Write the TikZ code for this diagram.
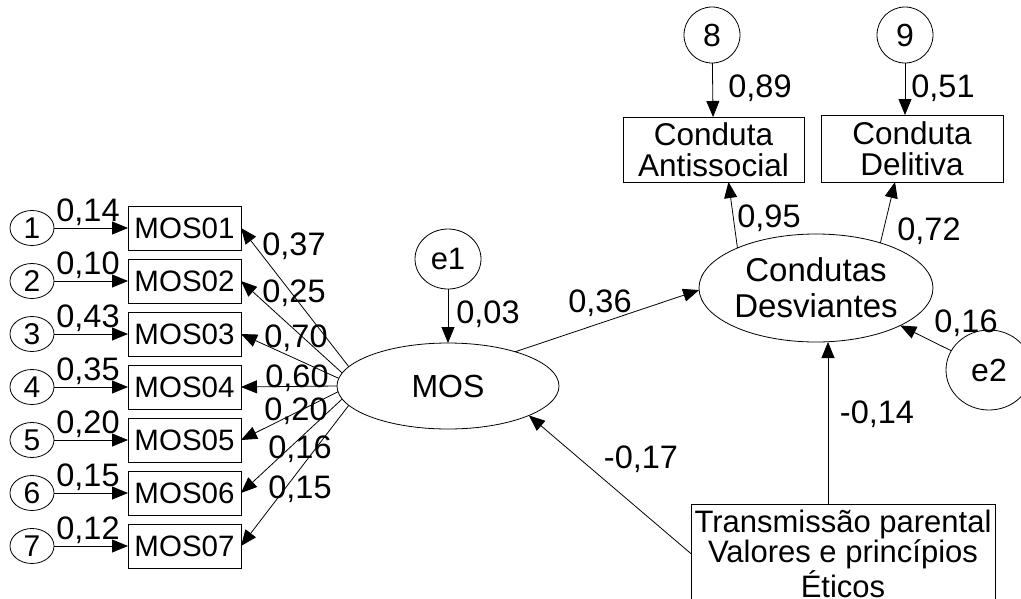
\documentclass[tikz,border=0pt]{standalone}
\usepackage{fontspec}
\setmainfont{Liberation Sans}
\usetikzlibrary{shapes.geometric,arrows.meta}
\begin{document}
\begin{tikzpicture}[x=1pt,y=-1pt,
  every node/.style={inner sep=0pt, outer sep=0pt},
  lw/.style={line width=0.8pt},
  arr/.style={lw, -{Triangle[length=16pt,width=13pt]}},
  obs/.style={draw, lw, rectangle, font=\fontsize{29.5}{29}\selectfont},
  err/.style={draw, lw, ellipse, font=\fontsize{30}{30}\selectfont},
  lat/.style={draw, lw, ellipse, align=center, font=\fontsize{33}{36}\selectfont},
  lab/.style={anchor=base, font=\fontsize{32.5}{32}\selectfont},
]
\path[use as bounding box] (0,0) rectangle (1021,598);
\clip (0,0) rectangle (1021,598);

% error circles 1-7
\node[err, minimum width=44pt, minimum height=35pt] (c1) at (32,228) {1};
\node[err, minimum width=44pt, minimum height=35pt] (c2) at (32,281) {2};
\node[err, minimum width=44pt, minimum height=35pt] (c3) at (32,334) {3};
\node[err, minimum width=44pt, minimum height=35pt] (c4) at (32,387) {4};
\node[err, minimum width=44pt, minimum height=35pt] (c5) at (32,440) {5};
\node[err, minimum width=44pt, minimum height=35pt] (c6) at (32,493) {6};
\node[err, minimum width=44pt, minimum height=35pt] (c7) at (32,546) {7};

% observed MOS items
\node[obs, minimum width=113pt, minimum height=44pt] (m1) at (184.5,228) {MOS01};
\node[obs, minimum width=113pt, minimum height=44pt] (m2) at (184.5,281) {MOS02};
\node[obs, minimum width=113pt, minimum height=44pt] (m3) at (184.5,334) {MOS03};
\node[obs, minimum width=113pt, minimum height=44pt] (m4) at (184.5,387) {MOS04};
\node[obs, minimum width=113pt, minimum height=44pt] (m5) at (184.5,440) {MOS05};
\node[obs, minimum width=113pt, minimum height=44pt] (m6) at (184.5,493) {MOS06};
\node[obs, minimum width=113pt, minimum height=44pt] (m7) at (184.5,546) {MOS07};

% latent variables
\node[lat, font=\fontsize{32}{32}\selectfont, minimum width=222pt, minimum height=86pt] (mos) at (448,386) {MOS};
\node[err, font=\fontsize{31}{31}\selectfont, minimum width=66pt, minimum height=60pt] (e1) at (448,259) {e1};
\node[lat, minimum width=234pt, minimum height=108pt] (cd) at (816,288) {Condutas\\Desviantes};
\node[err, font=\fontsize{32}{32}\selectfont, minimum width=86pt, minimum height=80pt] (e2) at (989,370) {e2};

% outcome boxes
\node[err, minimum size=56pt, font=\fontsize{32}{32}\selectfont] (c8) at (712,35) {8};
\node[err, minimum size=56pt, font=\fontsize{32}{32}\selectfont] (c9) at (905,35) {9};
\node[obs, font=\fontsize{31.5}{31}\selectfont, align=center, minimum width=181pt, minimum height=65pt] (ca) at (713.5,149.5) {Conduta\\Antissocial};
\node[obs, font=\fontsize{31.5}{31}\selectfont, align=center, minimum width=182pt, minimum height=67pt] (cdel) at (912,148.5) {Conduta\\Delitiva};

% predictor box
\node[obs, font=\fontsize{31}{28}\selectfont, align=center, minimum width=304pt, anchor=north, inner ysep=6pt] (tp) at (843,504) {Transmissão parental\\Valores e princípios\\Éticos};

% arrows errors -> items
\draw[arr] (c1) -- (m1);
\draw[arr] (c2) -- (m2);
\draw[arr] (c3) -- (m3);
\draw[arr] (c4) -- (m4);
\draw[arr] (c5) -- (m5);
\draw[arr] (c6) -- (m6);
\draw[arr] (c7) -- (m7);

% MOS -> items
\draw[arr] (mos.169) -- (m1.east);
\draw[arr] (mos.173) -- (m2.east);
\draw[arr] (mos.176.5) -- (m3.east);
\draw[arr] (mos.180) -- (m4.east);
\draw[arr] (mos.183.5) -- (m5.east);
\draw[arr] (mos.187) -- (m6.east);
\draw[arr] (mos.191) -- (m7.east);

% structural paths
\draw[arr] (e1) -- (mos);
\draw[arr] (mos.27) -- (cd.181);
\draw[arr] (c8) -- (ca);
\draw[arr] (c9) -- (c9 |- cdel.north);
\draw[arr] (cd.153) -- ([xshift=15pt]ca.south);
\draw[arr] (cd.35) -- ([xshift=-17pt]cdel.south);
\draw[arr] (e2.153) -- (cd.-24);
\draw[arr] ([xshift=-15pt]tp.north) -- ([xshift=-15pt]tp.north |- cd.south);
\draw[arr] (tp.west) -- (mos.-20);

% labels: error -> item
\node[lab] (l1) at (88,221) {0,14};
\node[lab] (l2) at (88,274) {0,10};
\node[lab] (l3) at (88,327) {0,43};
\node[lab] (l4) at (88,380) {0,35};
\node[lab] (l5) at (88,433) {0,20};
\node[lab] (l6) at (88,486) {0,15};
\node[lab] (l7) at (88,539) {0,12};

% labels: MOS -> item
\node[lab] (r1) at (294,255) {0,37};
\node[lab] (r2) at (294,302) {0,25};
\node[lab] (r3) at (296,347) {0,70};
\node[lab] (r4) at (297,387) {0,60};
\node[lab] (r5) at (296,420) {0,20};
\node[lab] (r6) at (300,458) {0,16};
\node[lab] (r7) at (300,498) {0,15};

% other labels
\node[lab] (le1) at (488,323) {0,03};
\node[lab] (lmc) at (600,312) {0,36};
\node[lab] (l8) at (760,97) {0,89};
\node[lab] (l9) at (943,97) {0,51};
\node[lab] (lca) at (769,227) {0,95};
\node[lab] (lcd) at (929,240) {0,72};
\node[lab] (le2) at (966,332) {0,16};
\node[lab] (ltc) at (877,423) {-0,14};
\node[lab] (ltm) at (641,468) {-0,17};
\end{tikzpicture}
\end{document}
